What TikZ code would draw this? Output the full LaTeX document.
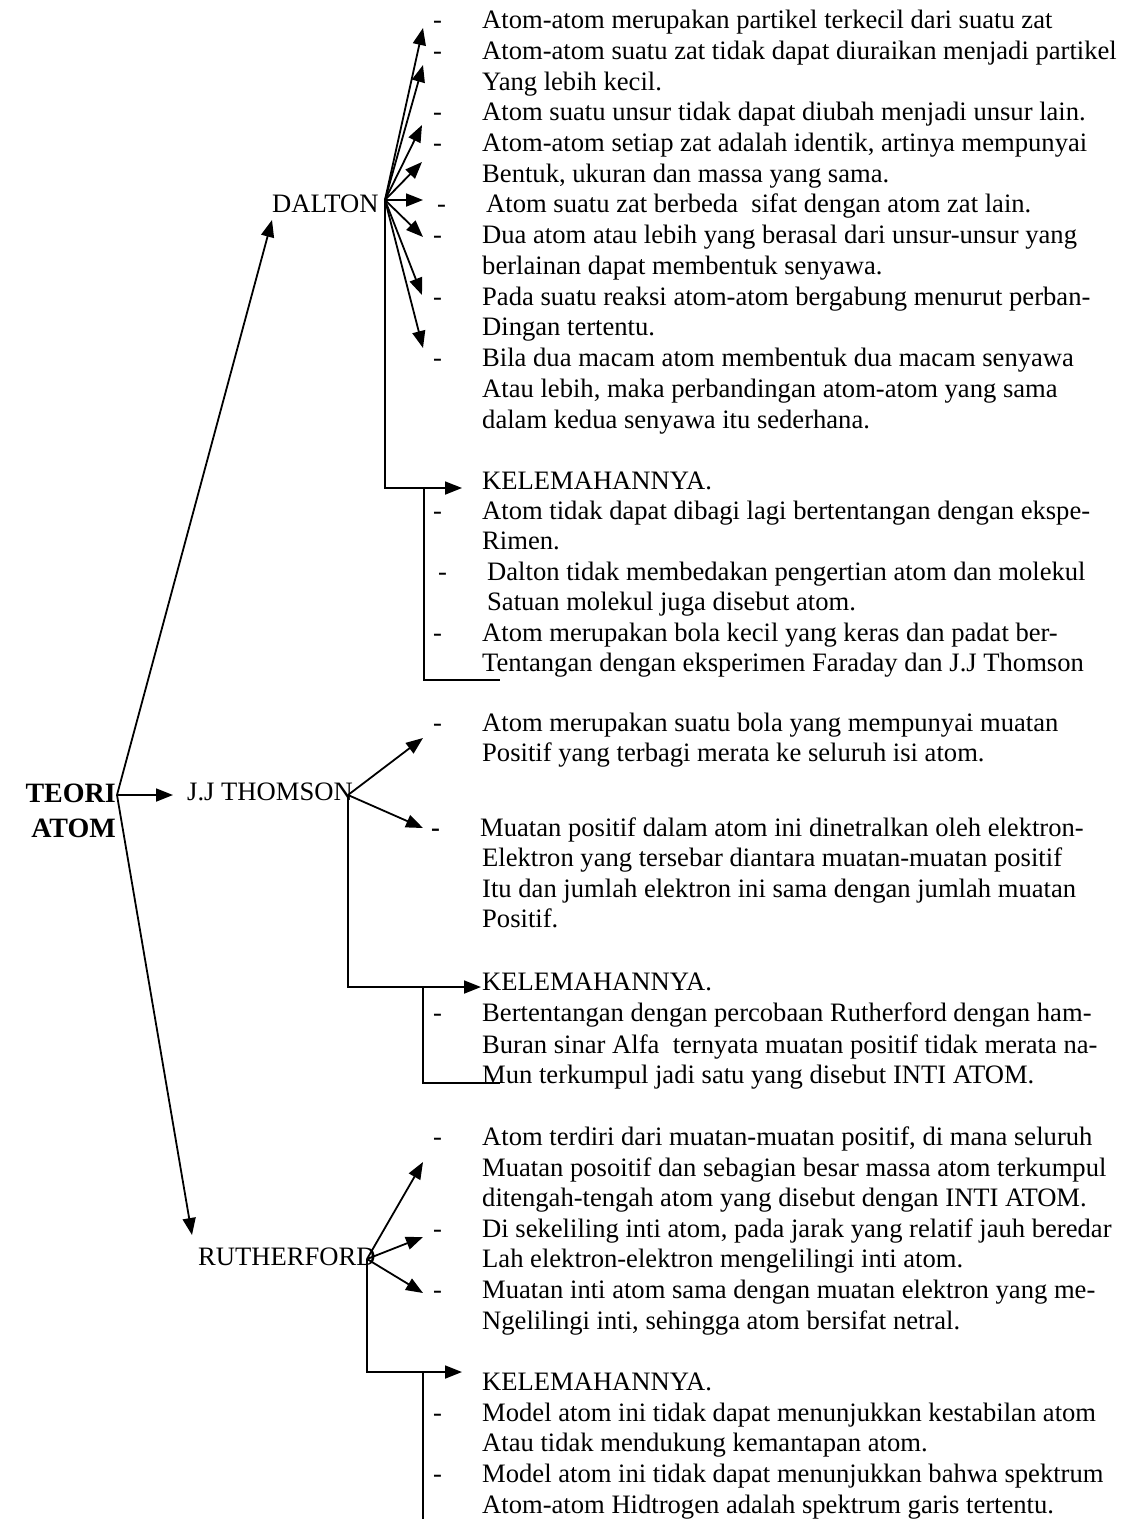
\documentclass[tikz,border=0pt]{standalone}
\usepackage{fontspec}
\setmainfont{Liberation Serif}[BoldFont={Liberation Serif Bold}]
\usetikzlibrary{arrows.meta}
\begin{document}
\begin{tikzpicture}[x=1pt,y=-1pt,
  txt/.style={anchor=base west,inner sep=0pt,font=\fontsize{26.6}{30.7}\selectfont},
  lbl/.style={anchor=base west,inner sep=0pt,font=\fontsize{26.6}{30.7}\selectfont},
  ttl/.style={anchor=base east,inner sep=0pt,font=\fontsize{28}{32}\selectfont\bfseries},
  conn/.style={line width=1.8pt},
  arr/.style={line width=1.8pt,-{Triangle[length=17pt,width=13pt]}}]
\useasboundingbox (0,0) rectangle (1125,1519);
% title and labels
\node[ttl] (teori) at (116,802) {TEORI};
\node[ttl] (atom) at (116,837) {ATOM};
\coordinate (root) at (117,795);
\node[lbl] (dalton) at (272,212) {DALTON};
\node[lbl] (thomson) at (187,800) {J.J THOMSON};
\node[lbl] (ruth) at (198,1265) {RUTHERFORD};
\coordinate (dj) at (385,200);
\coordinate (tj) at (348,795);
\coordinate (rj) at (367,1259);
\coordinate (dtip) at (272,220);
\coordinate (ttip) at (173,795);
\coordinate (rtip) at (192,1235);
\draw[arr] (root) -- (dtip);
\draw[arr] (root) -- (ttip);
\draw[arr] (root) -- (rtip);
% Dalton text
\node[txt] (dd1) at (433,28) {-};
\node[txt] (d1) at (482,28) {Atom-atom merupakan partikel terkecil dari suatu zat};
\node[txt] (dd2) at (433,59) {-};
\node[txt] (d2) at (482,59) {Atom-atom suatu zat tidak dapat diuraikan menjadi partikel};
\node[txt] (d3) at (482,90) {Yang lebih kecil.};
\node[txt] (dd4) at (433,120) {-};
\node[txt] (d4) at (482,120) {Atom suatu unsur tidak dapat diubah menjadi unsur lain.};
\node[txt] (dd5) at (433,151) {-};
\node[txt] (d5) at (482,151) {Atom-atom setiap zat adalah identik, artinya mempunyai};
\node[txt] (d6) at (482,182) {Bentuk, ukuran dan massa yang sama.};
\node[txt] (dd7) at (437,212) {-};
\node[txt] (d7) at (486,212) {Atom suatu zat berbeda\ \ sifat dengan atom zat lain.};
\node[txt] (dd8) at (433,243) {-};
\node[txt] (d8) at (482,243) {Dua atom atau lebih yang berasal dari unsur-unsur yang};
\node[txt] (d9) at (482,274) {berlainan dapat membentuk senyawa.};
\node[txt] (dd10) at (433,305) {-};
\node[txt] (d10) at (482,305) {Pada suatu reaksi atom-atom bergabung menurut perban-};
\node[txt] (d11) at (482,335) {Dingan tertentu.};
\node[txt] (dd12) at (433,366) {-};
\node[txt] (d12) at (482,366) {Bila dua macam atom membentuk dua macam senyawa};
\node[txt] (d13) at (482,397) {Atau lebih, maka perbandingan atom-atom yang sama};
\node[txt] (d14) at (482,428) {dalam kedua senyawa itu sederhana.};
% Dalton arrows
\coordinate (da1) at (423,28);
\coordinate (da2) at (423,65);
\coordinate (da3) at (422,125);
\coordinate (da4) at (422,162);
\coordinate (da5) at (423,200);
\coordinate (da6) at (423,237);
\coordinate (da7) at (422,295);
\coordinate (da8) at (423,348);
\foreach \t in {da1,da2,da3,da4,da5,da6,da7,da8} \draw[arr] (dj) -- (\t);
% Dalton weaknesses
\node[txt] (dk) at (482,489) {KELEMAHANNYA.};
\node[txt] (dkd1) at (433,519) {-};
\node[txt] (dk1) at (482,519) {Atom tidak dapat dibagi lagi bertentangan dengan ekspe-};
\node[txt] (dk2) at (482,549) {Rimen.};
\node[txt] (dkd3) at (438,580) {-};
\node[txt] (dk3) at (487,580) {Dalton tidak membedakan pengertian atom dan molekul};
\node[txt] (dk4) at (487,610) {Satuan molekul juga disebut atom.};
\node[txt] (dkd5) at (433,641) {-};
\node[txt] (dk5) at (482,641) {Atom merupakan bola kecil yang keras dan padat ber-};
\node[txt] (dk6) at (482,671) {Tentangan dengan eksperimen Faraday dan J.J Thomson};
\coordinate (dkc) at (385,488);
\coordinate (dkt) at (462,488);
\coordinate (dkb) at (424,488);
\coordinate (dkbb) at (424,680);
\coordinate (dkbe) at (500,680);
\draw[arr] (dj) -- (dkc) -- (dkt);
\draw[conn] (dkb) -- (dkbb) -- (dkbe);
% Thomson text
\node[txt] (td1) at (433,731) {-};
\node[txt] (t1) at (482,731) {Atom merupakan suatu bola yang mempunyai muatan};
\node[txt] (t2) at (482,761) {Positif yang terbagi merata ke seluruh isi atom.};
\node[txt,font=\fontsize{26.6}{30.7}\selectfont\bfseries] (td3) at (431,836) {-};
\node[txt] (t3) at (480,836) {Muatan positif dalam atom ini dinetralkan oleh elektron-};
\node[txt] (t4) at (482,866) {Elektron yang tersebar diantara muatan-muatan positif};
\node[txt] (t5) at (482,897) {Itu dan jumlah elektron ini sama dengan jumlah muatan};
\node[txt] (t6) at (482,927) {Positif.};
\coordinate (ta1) at (423,738);
\coordinate (ta2) at (423,828);
\draw[arr] (tj) -- (ta1);
\draw[arr] (tj) -- (ta2);
\node[txt] (tk) at (482,990) {KELEMAHANNYA.};
\node[txt] (tkd1) at (433,1021) {-};
\node[txt] (tk1) at (482,1021) {Bertentangan dengan percobaan Rutherford dengan ham-};
\node[txt] (tk2) at (482,1053) {Buran sinar Alfa\ \ ternyata muatan positif tidak merata na-};
\node[txt] (tk3) at (482,1083) {Mun terkumpul jadi satu yang disebut INTI ATOM.};
\coordinate (tkc) at (348,987);
\coordinate (tkt) at (481,987);
\coordinate (tkb) at (423,987);
\coordinate (tkbb) at (423,1083);
\coordinate (tkbe) at (500,1083);
\draw[arr] (tj) -- (tkc) -- (tkt);
\draw[conn] (tkb) -- (tkbb) -- (tkbe);
% Rutherford text
\node[txt] (rd1) at (433,1145) {-};
\node[txt] (r1) at (482,1145) {Atom terdiri dari muatan-muatan positif, di mana seluruh};
\node[txt] (r2) at (482,1176) {Muatan posoitif dan sebagian besar massa atom terkumpul};
\node[txt] (r3) at (482,1206) {ditengah-tengah atom yang disebut dengan INTI ATOM.};
\node[txt] (rd4) at (433,1237) {-};
\node[txt] (r4) at (482,1237) {Di sekeliling inti atom, pada jarak yang relatif jauh beredar};
\node[txt] (r5) at (482,1267) {Lah elektron-elektron mengelilingi inti atom.};
\node[txt] (rd6) at (433,1298) {-};
\node[txt] (r6) at (482,1298) {Muatan inti atom sama dengan muatan elektron yang me-};
\node[txt] (r7) at (482,1329) {Ngelilingi inti, sehingga atom bersifat netral.};
\coordinate (ra1) at (423,1162);
\coordinate (ra2) at (423,1237);
\coordinate (ra3) at (423,1293);
\draw[arr] (rj) -- (ra1);
\draw[arr] (rj) -- (ra2);
\draw[arr] (rj) -- (ra3);
\node[txt] (rk) at (482,1390) {KELEMAHANNYA.};
\node[txt] (rkd1) at (433,1421) {-};
\node[txt] (rk1) at (482,1421) {Model atom ini tidak dapat menunjukkan kestabilan atom};
\node[txt] (rk2) at (482,1451) {Atau tidak mendukung kemantapan atom.};
\node[txt] (rkd3) at (433,1482) {-};
\node[txt] (rk3) at (482,1482) {Model atom ini tidak dapat menunjukkan bahwa spektrum};
\node[txt] (rk4) at (482,1513) {Atom-atom Hidtrogen adalah spektrum garis tertentu.};
\coordinate (rkc) at (367,1372);
\coordinate (rkt) at (462,1372);
\coordinate (rkb) at (423,1372);
\coordinate (rkbb) at (423,1519);
\draw[arr] (rj) -- (rkc) -- (rkt);
\draw[conn] (rkb) -- (rkbb);
\end{tikzpicture}
\end{document}
